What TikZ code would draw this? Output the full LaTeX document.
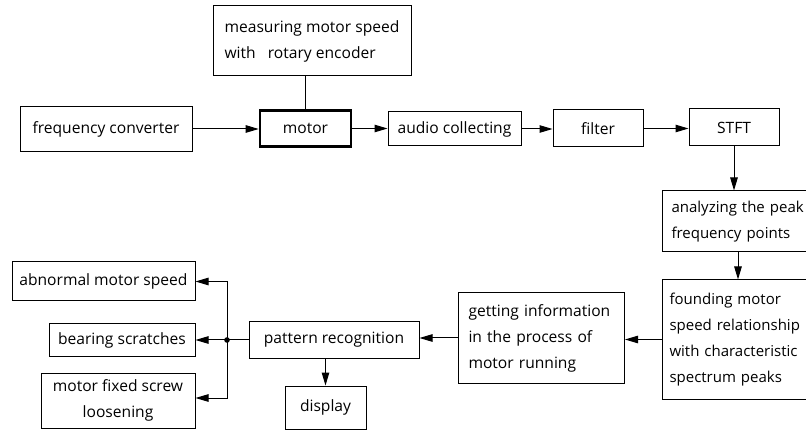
\documentclass[tikz,border=0pt]{standalone}
\usepackage{fontspec}
\setmainfont{Open Sans}
\usepackage{tikz}
\usetikzlibrary{shapes,arrows.meta}

\tikzset{
  blk/.style={draw, line width=1pt, inner sep=0pt, align=center,
    font=\fontsize{15.6}{26}\selectfont},
  lblk/.style={blk, align=left, anchor=west},
  nblk/.style={lblk, font=\fontsize{15}{26}\selectfont},
  arr/.style={line width=1pt, -{Triangle[length=13pt,width=7.5pt]}}
}

\begin{document}
\begin{tikzpicture}[x=1pt,y=-1pt]
\useasboundingbox (0,0) rectangle (806,430);

% top row
\node[blk, minimum width=198, minimum height=70, align=left] (meas) at (312,41)
  {measuring motor speed\\with~~ rotary encoder};
\node[blk, minimum width=172, minimum height=45] (conv) at (106,129) {frequency converter};
\node[blk, line width=2.6pt, minimum width=91, minimum height=36] (motor) at (305.5,128.5) {motor};
\node[blk, minimum width=133, minimum height=34] (audio) at (454.5,129) {audio collecting};
\node[blk, minimum width=90, minimum height=37] (filt) at (598,128.5) {filter};
\node[blk, minimum width=90, minimum height=37] (stft) at (734,127.5) {STFT};

% right column
\node[nblk, inner xsep=9, text width=150, minimum height=61] (anal) at (662,221.5)
  {analyzing the peak\\frequency points};
\node[nblk, inner xsep=7, text width=150, minimum height=119] (found) at (662,339.5)
  {founding motor\\speed relationship\\with characteristic\\spectrum peaks};

% bottom row
\node[lblk, inner xsep=10, text width=146, minimum height=90] (info) at (458,338)
  {getting information\\in the process of\\motor running};
\node[blk, minimum width=170, minimum height=37] (patt) at (334,340) {pattern recognition};
\node[blk, minimum width=81, minimum height=43] (disp) at (325.5,407.5) {display};
\node[blk, minimum width=183, minimum height=39] (abn) at (103.5,281.5) {abnormal motor speed};
\node[blk, minimum width=146, minimum height=33] (bear) at (122,340) {bearing scratches};
\node[blk, minimum width=154, minimum height=55] (screw) at (118,400.5)
  {motor fixed screw\\loosening};

\coordinate (jn) at (227,340);

% connectors
\draw[line width=1pt] (motor.north) -- (motor.north |- meas.south);
\draw[arr] (conv.east) -- (conv.east -| motor.west);
\draw[arr] (motor.east) -- (motor.east -| audio.west);
\draw[arr] (audio.east) -- (audio.east -| filt.west);
\draw[arr] (filt.east) -- (filt.east -| stft.west);
\draw[arr] (stft.south) -- (stft.south |- anal.north);
\draw[arr] ([xshift=4]stft.south |- anal.south) -- ([xshift=4]stft.south |- found.north);
\draw[arr] (found.west) -- (found.west -| info.east);
\draw[arr] (info.west) -- (info.west -| patt.east);
\draw[arr] (patt.south -| disp.north) -- (disp.north);
\draw[line width=1pt] (patt.west) -- (jn);
\draw[arr] (jn) |- (abn.east);
\draw[arr] (jn) -- (bear.east);
\draw[arr] (jn) |- ([yshift=2.5]screw.east);
\fill (jn) circle (2.8);

\end{tikzpicture}
\end{document}
